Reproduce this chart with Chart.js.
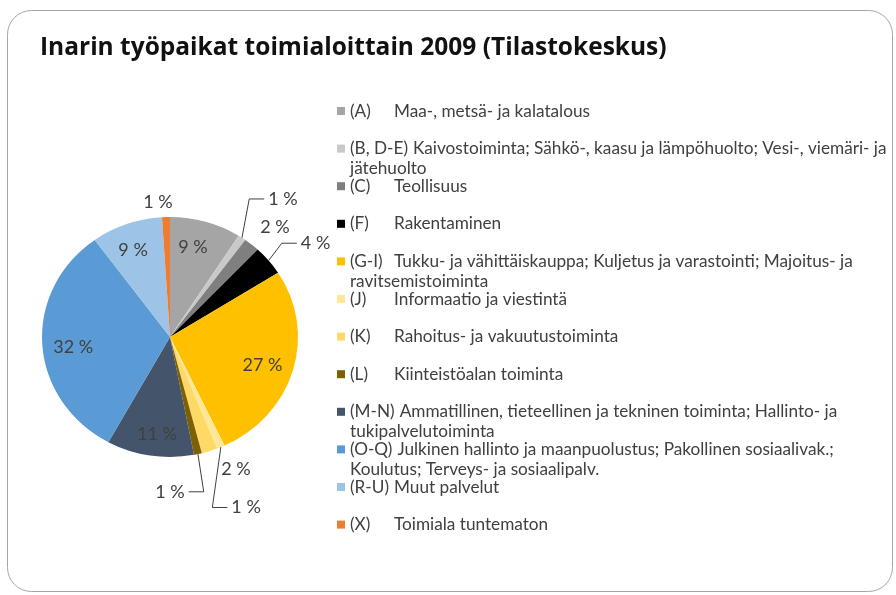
<!DOCTYPE html>
<html>
<head>
<meta charset="utf-8">
<script src="https://cdn.jsdelivr.net/npm/chart.js@4"></script>
<style>
  html, body { margin: 0; padding: 0; background: #fff; }
  #wrap { position: relative; width: 896px; height: 595px; }
</style>
</head>
<body>
<div id="wrap"><canvas id="pie" width="896" height="595"></canvas></div>
<script>
const title = 'Inarin työpaikat toimialoittain 2009 (Tilastokeskus)';

// toimialat (legend codes + names, explicit line breaks as in the picture)
const codes = ['(A)', '(B, D-E)', '(C)', '(F)', '(G-I)', '(J)', '(K)', '(L)', '(M-N)', '(O-Q)', '(R-U)', '(X)'];
const names = [
  ['Maa-, metsä- ja kalatalous'],
  ['Kaivostoiminta; Sähkö-, kaasu ja lämpöhuolto; Vesi-, viemäri- ja', 'jätehuolto'],
  ['Teollisuus'],
  ['Rakentaminen'],
  ['Tukku- ja vähittäiskauppa; Kuljetus ja varastointi; Majoitus- ja', 'ravitsemistoiminta'],
  ['Informaatio ja viestintä'],
  ['Rahoitus- ja vakuutustoiminta'],
  ['Kiinteistöalan toiminta'],
  ['Ammatillinen, tieteellinen ja tekninen toiminta; Hallinto- ja', 'tukipalvelutoiminta'],
  ['Julkinen hallinto ja maanpuolustus; Pakollinen sosiaalivak.;', 'Koulutus; Terveys- ja sosiaalipalv.'],
  ['Muut palvelut'],
  ['Toimiala tuntematon']
];

// osuus työpaikoista, %
const shares = [9, 1, 2, 4, 27, 1, 2, 1, 11, 32, 9, 1];

const colours = ['#a5a5a5', '#c9c9c9', '#7f7f7f', '#000000', '#ffc000', '#ffe699',
                 '#ffd966', '#7f6000', '#44546a', '#5b9bd5', '#9dc3e6', '#ed7d31'];

// where each percentage label sits: r = fraction of radius, da = degrees off slice middle
const labelPlace = [
  { r: 0.77, da: -2.7 },
  { r: 1.45, da: 3.3, leader: true },
  { r: 1.23, da: 2.2 },
  { r: 1.38, da: 5.1, leader: true },
  { r: 0.76, da: 1.8 },
  { r: 1.54, da: 0.7, leader: true },
  { r: 1.22, da: -7 },
  { r: 1.29, da: 12.6, leader: true },
  { r: 0.82, da: -1.9 },
  { r: 0.76, da: -2.7 },
  { r: 0.78, da: -1.9 },
  { r: 1.13, da: -3 }
];

const SQUASH = 120 / 128; // pie in the picture is a bit wider than tall
const FONT = 'Lato, "Open Sans", sans-serif';

function roundRect(ctx, x, y, w, h, r) {
  ctx.beginPath();
  ctx.moveTo(x + r, y);
  ctx.arcTo(x + w, y, x + w, y + h, r);
  ctx.arcTo(x + w, y + h, x, y + h, r);
  ctx.arcTo(x, y + h, x, y, r);
  ctx.arcTo(x, y, x + w, y, r);
  ctx.closePath();
}

const frameTitle = {
  id: 'frameTitle',
  beforeDraw(chart) {
    const ctx = chart.ctx;
    ctx.save();
    ctx.fillStyle = '#fff';
    ctx.fillRect(0, 0, chart.width, chart.height);
    roundRect(ctx, 7.5, 10.5, 885, 581, 24);
    ctx.strokeStyle = '#a6a6a6';
    ctx.lineWidth = 1;
    ctx.stroke();
    ctx.fillStyle = '#111';
    ctx.font = 'bold 24.5px "Open Sans", sans-serif';
    ctx.textBaseline = 'alphabetic';
    ctx.fillText(title, 40, 55);
    ctx.restore();
  }
};

const squashPie = {
  id: 'squashPie',
  beforeDatasetsDraw(chart) {
    const arc = chart.getDatasetMeta(0).data[0];
    const ctx = chart.ctx;
    ctx.save();
    ctx.translate(0, arc.y);
    ctx.scale(1, SQUASH);
    ctx.translate(0, -arc.y);
  },
  afterDatasetsDraw(chart) {
    chart.ctx.restore();
  }
};

const sliceLabels = {
  id: 'sliceLabels',
  afterDraw(chart) {
    const ctx = chart.ctx;
    const arcs = chart.getDatasetMeta(0).data;
    ctx.save();
    ctx.font = '18px ' + FONT;
    ctx.fillStyle = '#404040';
    ctx.strokeStyle = '#404040';
    ctx.lineWidth = 1;
    ctx.textAlign = 'center';
    ctx.textBaseline = 'middle';
    arcs.forEach((arc, i) => {
      const p = labelPlace[i];
      const mid = (arc.startAngle + arc.endAngle) / 2;
      const rx = arc.outerRadius, ry = arc.outerRadius * SQUASH;
      const a = mid + p.da * Math.PI / 180;
      const lx = arc.x + Math.cos(a) * rx * p.r;
      const ly = arc.y + Math.sin(a) * ry * p.r;
      const text = shares[i] + ' %';
      ctx.fillText(text, lx, ly);
      if (p.leader) {
        const sx = arc.x + Math.cos(mid) * rx;
        const sy = arc.y + Math.sin(mid) * ry;
        const half = ctx.measureText(text).width / 2;
        const dir = lx > sx ? 1 : -1;
        const ex = lx - dir * (half + 4);
        const bx = ex - dir * 15;
        ctx.beginPath();
        ctx.moveTo(sx, sy);
        ctx.lineTo(bx, ly);
        ctx.lineTo(ex, ly);
        ctx.stroke();
      }
    });
    ctx.restore();
  }
};

const sideLegend = {
  id: 'sideLegend',
  afterDraw(chart) {
    const ctx = chart.ctx;
    ctx.save();
    ctx.font = '17.2px ' + FONT;
    ctx.textBaseline = 'middle';
    codes.forEach((code, i) => {
      const y = 111 + i * 37.6;
      ctx.fillStyle = colours[i];
      ctx.fillRect(337, y - 4, 8, 8);
      ctx.fillStyle = '#404040';
      ctx.fillText(code, 350, y);
      const tx = Math.max(394, 350 + ctx.measureText(code).width + 5);
      names[i].forEach((line, j) => ctx.fillText(line, j ? 350 : tx, y + j * 20));
    });
    ctx.restore();
  }
};

new Chart(document.getElementById('pie'), {
  type: 'pie',
  data: {
    labels: codes,
    datasets: [{
      data: shares,
      backgroundColor: colours,
      borderWidth: 0,
      hoverOffset: 0
    }]
  },
  options: {
    responsive: false,
    animation: false,
    layout: { padding: { left: 42, right: 598, top: 209, bottom: 130 } },
    plugins: {
      legend: { display: false },
      tooltip: { enabled: false }
    }
  },
  plugins: [frameTitle, squashPie, sliceLabels, sideLegend]
});
</script>
</body>
</html>
